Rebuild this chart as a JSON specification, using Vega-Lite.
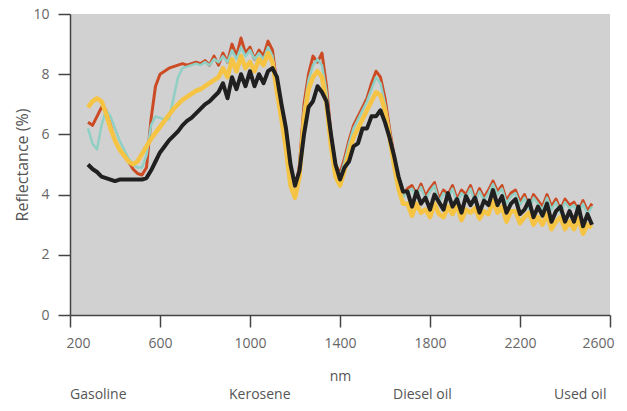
{
  "$schema": "https://vega.github.io/schema/vega-lite/v6.json",
  "autosize": "none",
  "width": 540,
  "height": 301,
  "padding": {"left": 70, "top": 14, "right": 17, "bottom": 96},
  "background": "white",
  "config": {
    "view": {"fill": "#d1d1d1", "stroke": null},
    "font": "Open Sans",
    "axis": {"grid": false, "domainColor": "#444", "domainWidth": 1.5, "tickColor": "#444", "tickWidth": 1.5, "tickSize": 12, "labelColor": "#666", "labelFontSize": 14, "titleColor": "#555", "titleFontWeight": "normal"}
  },
  "datasets": {
    "gas": [
      {"nm":280,"r":6.4},{"nm":300,"r":6.3},{"nm":320,"r":6.6},{"nm":340,"r":6.9},{"nm":360,"r":6.8},{"nm":380,"r":6.3},{"nm":400,"r":5.8},{"nm":420,"r":5.5},{"nm":440,"r":5.3},{"nm":460,"r":5.1},{"nm":480,"r":4.85},{"nm":500,"r":4.7},{"nm":520,"r":4.65},{"nm":540,"r":4.9},{"nm":560,"r":6.5},{"nm":580,"r":7.6},{"nm":600,"r":8.0},{"nm":620,"r":8.1},{"nm":640,"r":8.2},{"nm":660,"r":8.25},{"nm":680,"r":8.3},{"nm":700,"r":8.35},{"nm":720,"r":8.3},{"nm":740,"r":8.35},{"nm":760,"r":8.4},{"nm":780,"r":8.35},{"nm":800,"r":8.45},{"nm":820,"r":8.3},{"nm":840,"r":8.6},{"nm":860,"r":8.3},{"nm":880,"r":8.7},{"nm":900,"r":8.4},{"nm":920,"r":9.0},{"nm":940,"r":8.6},{"nm":960,"r":9.2},{"nm":980,"r":8.7},{"nm":1000,"r":8.9},{"nm":1020,"r":8.5},{"nm":1040,"r":8.8},{"nm":1060,"r":8.6},{"nm":1080,"r":9.1},{"nm":1100,"r":8.8},{"nm":1120,"r":7.6},{"nm":1140,"r":6.8},{"nm":1160,"r":5.8},{"nm":1180,"r":4.6},{"nm":1200,"r":4.0},{"nm":1220,"r":5.0},{"nm":1240,"r":7.0},{"nm":1260,"r":8.0},{"nm":1280,"r":8.6},{"nm":1300,"r":8.4},{"nm":1320,"r":8.7},{"nm":1340,"r":7.6},{"nm":1360,"r":6.0},{"nm":1380,"r":5.0},{"nm":1400,"r":4.7},{"nm":1420,"r":5.2},{"nm":1440,"r":5.8},{"nm":1460,"r":6.3},{"nm":1480,"r":6.6},{"nm":1500,"r":6.9},{"nm":1520,"r":7.2},{"nm":1540,"r":7.7},{"nm":1560,"r":8.1},{"nm":1580,"r":7.9},{"nm":1600,"r":7.2},{"nm":1620,"r":6.2},{"nm":1640,"r":5.3},{"nm":1660,"r":4.5},{"nm":1680,"r":4.0},
      {"nm":1700,"r":4.2},{"nm":1720,"r":4.3},{"nm":1740,"r":4.0},{"nm":1760,"r":4.35},{"nm":1780,"r":3.95},{"nm":1800,"r":4.2},{"nm":1820,"r":4.4},{"nm":1840,"r":3.85},{"nm":1860,"r":4.15},{"nm":1880,"r":4.0},{"nm":1900,"r":4.3},{"nm":1920,"r":3.85},{"nm":1940,"r":4.15},{"nm":1960,"r":4.0},{"nm":1980,"r":4.3},{"nm":2000,"r":3.85},{"nm":2020,"r":4.2},{"nm":2040,"r":3.9},{"nm":2060,"r":4.15},{"nm":2080,"r":4.45},{"nm":2100,"r":4.1},{"nm":2120,"r":4.3},{"nm":2140,"r":3.8},{"nm":2160,"r":4.05},{"nm":2180,"r":4.15},{"nm":2200,"r":3.75},{"nm":2220,"r":4.0},{"nm":2240,"r":3.6},{"nm":2260,"r":4.0},{"nm":2280,"r":3.8},{"nm":2300,"r":3.6},{"nm":2320,"r":4.0},{"nm":2340,"r":3.6},{"nm":2360,"r":3.85},{"nm":2380,"r":3.5},{"nm":2400,"r":3.85},{"nm":2420,"r":3.65},{"nm":2440,"r":3.75},{"nm":2460,"r":3.45},{"nm":2480,"r":3.8},{"nm":2500,"r":3.45},{"nm":2520,"r":3.7}
    ],
    "ker": [
      {"nm":280,"r":6.2},{"nm":300,"r":5.7},{"nm":320,"r":5.5},{"nm":340,"r":6.3},{"nm":360,"r":6.8},{"nm":380,"r":6.6},{"nm":400,"r":6.2},{"nm":420,"r":5.8},{"nm":440,"r":5.5},{"nm":460,"r":5.2},{"nm":480,"r":5.0},{"nm":500,"r":4.9},{"nm":520,"r":4.9},{"nm":540,"r":5.3},{"nm":560,"r":6.3},{"nm":580,"r":6.6},{"nm":600,"r":6.55},{"nm":620,"r":6.5},{"nm":640,"r":6.5},{"nm":660,"r":7.2},{"nm":680,"r":7.9},{"nm":700,"r":8.2},{"nm":720,"r":8.25},{"nm":740,"r":8.3},{"nm":760,"r":8.35},{"nm":780,"r":8.3},{"nm":800,"r":8.4},{"nm":820,"r":8.3},{"nm":840,"r":8.5},{"nm":860,"r":8.4},{"nm":880,"r":8.6},{"nm":900,"r":8.4},{"nm":920,"r":8.8},{"nm":940,"r":8.5},{"nm":960,"r":8.9},{"nm":980,"r":8.6},{"nm":1000,"r":8.8},{"nm":1020,"r":8.5},{"nm":1040,"r":8.7},{"nm":1060,"r":8.5},{"nm":1080,"r":8.9},{"nm":1100,"r":8.6},{"nm":1120,"r":7.5},{"nm":1140,"r":6.7},{"nm":1160,"r":5.7},{"nm":1180,"r":4.5},{"nm":1200,"r":4.0},{"nm":1220,"r":4.9},{"nm":1240,"r":6.8},{"nm":1260,"r":7.8},{"nm":1280,"r":8.3},{"nm":1300,"r":8.5},{"nm":1320,"r":8.3},{"nm":1340,"r":7.4},{"nm":1360,"r":5.9},{"nm":1380,"r":4.9},{"nm":1400,"r":4.6},{"nm":1420,"r":5.1},{"nm":1440,"r":5.7},{"nm":1460,"r":6.2},{"nm":1480,"r":6.5},{"nm":1500,"r":6.8},{"nm":1520,"r":7.1},{"nm":1540,"r":7.5},{"nm":1560,"r":7.9},{"nm":1580,"r":7.7},{"nm":1600,"r":7.0},{"nm":1620,"r":6.1},{"nm":1640,"r":5.2},{"nm":1660,"r":4.4},{"nm":1680,"r":3.9},
      {"nm":1700,"r":4.1},{"nm":1720,"r":4.2},{"nm":1740,"r":3.9},{"nm":1760,"r":4.25},{"nm":1780,"r":3.85},{"nm":1800,"r":4.1},{"nm":1820,"r":4.3},{"nm":1840,"r":3.75},{"nm":1860,"r":4.05},{"nm":1880,"r":3.9},{"nm":1900,"r":4.2},{"nm":1920,"r":3.75},{"nm":1940,"r":4.05},{"nm":1960,"r":3.9},{"nm":1980,"r":4.2},{"nm":2000,"r":3.75},{"nm":2020,"r":4.1},{"nm":2040,"r":3.8},{"nm":2060,"r":4.05},{"nm":2080,"r":4.35},{"nm":2100,"r":4.0},{"nm":2120,"r":4.2},{"nm":2140,"r":3.7},{"nm":2160,"r":3.95},{"nm":2180,"r":4.05},{"nm":2200,"r":3.65},{"nm":2220,"r":3.9},{"nm":2240,"r":3.5},{"nm":2260,"r":3.9},{"nm":2280,"r":3.7},{"nm":2300,"r":3.5},{"nm":2320,"r":3.9},{"nm":2340,"r":3.5},{"nm":2360,"r":3.75},{"nm":2380,"r":3.4},{"nm":2400,"r":3.75},{"nm":2420,"r":3.55},{"nm":2440,"r":3.65},{"nm":2460,"r":3.35},{"nm":2480,"r":3.7},{"nm":2500,"r":3.35},{"nm":2520,"r":3.6}
    ],
    "die": [
      {"nm":280,"r":6.9},{"nm":300,"r":7.1},{"nm":320,"r":7.2},{"nm":340,"r":7.1},{"nm":360,"r":6.7},{"nm":380,"r":6.2},{"nm":400,"r":5.8},{"nm":420,"r":5.5},{"nm":440,"r":5.3},{"nm":460,"r":5.1},{"nm":480,"r":5.0},{"nm":500,"r":5.1},{"nm":520,"r":5.35},{"nm":540,"r":5.6},{"nm":560,"r":5.85},{"nm":580,"r":6.05},{"nm":600,"r":6.25},{"nm":620,"r":6.45},{"nm":640,"r":6.65},{"nm":660,"r":6.85},{"nm":680,"r":7.0},{"nm":700,"r":7.15},{"nm":720,"r":7.25},{"nm":740,"r":7.35},{"nm":760,"r":7.45},{"nm":780,"r":7.5},{"nm":800,"r":7.6},{"nm":820,"r":7.7},{"nm":840,"r":7.8},{"nm":860,"r":7.9},{"nm":880,"r":8.2},{"nm":900,"r":7.9},{"nm":920,"r":8.5},{"nm":940,"r":8.1},{"nm":960,"r":8.6},{"nm":980,"r":8.2},{"nm":1000,"r":8.4},{"nm":1020,"r":8.1},{"nm":1040,"r":8.5},{"nm":1060,"r":8.3},{"nm":1080,"r":8.7},{"nm":1100,"r":8.4},{"nm":1120,"r":7.4},{"nm":1140,"r":6.5},{"nm":1160,"r":5.5},{"nm":1180,"r":4.3},{"nm":1200,"r":3.9},{"nm":1220,"r":4.6},{"nm":1240,"r":6.5},{"nm":1260,"r":7.5},{"nm":1280,"r":7.9},{"nm":1300,"r":8.1},{"nm":1320,"r":7.9},{"nm":1340,"r":7.0},{"nm":1360,"r":5.6},{"nm":1380,"r":4.6},{"nm":1400,"r":4.3},{"nm":1420,"r":4.8},{"nm":1440,"r":5.4},{"nm":1460,"r":5.9},{"nm":1480,"r":6.2},{"nm":1500,"r":6.5},{"nm":1520,"r":6.8},{"nm":1540,"r":7.1},{"nm":1560,"r":7.4},{"nm":1580,"r":7.3},{"nm":1600,"r":6.8},{"nm":1620,"r":5.9},{"nm":1640,"r":5.0},{"nm":1660,"r":4.2},{"nm":1680,"r":3.7},
      {"nm":1700,"r":3.7},{"nm":1720,"r":3.3},{"nm":1740,"r":3.7},{"nm":1760,"r":3.4},{"nm":1780,"r":3.5},{"nm":1800,"r":3.25},{"nm":1820,"r":3.7},{"nm":1840,"r":3.35},{"nm":1860,"r":3.25},{"nm":1880,"r":3.6},{"nm":1900,"r":3.35},{"nm":1920,"r":3.65},{"nm":1940,"r":3.15},{"nm":1960,"r":3.5},{"nm":1980,"r":3.4},{"nm":2000,"r":3.55},{"nm":2020,"r":3.2},{"nm":2040,"r":3.45},{"nm":2060,"r":3.35},{"nm":2080,"r":3.8},{"nm":2100,"r":3.4},{"nm":2120,"r":3.6},{"nm":2140,"r":3.1},{"nm":2160,"r":3.45},{"nm":2180,"r":3.45},{"nm":2200,"r":3.05},{"nm":2220,"r":3.25},{"nm":2240,"r":3.4},{"nm":2260,"r":3.0},{"nm":2280,"r":3.25},{"nm":2300,"r":3.0},{"nm":2320,"r":3.35},{"nm":2340,"r":2.85},{"nm":2360,"r":3.1},{"nm":2380,"r":3.25},{"nm":2400,"r":2.85},{"nm":2420,"r":3.1},{"nm":2440,"r":2.85},{"nm":2460,"r":3.2},{"nm":2480,"r":2.7},{"nm":2500,"r":3.0},{"nm":2520,"r":2.9}
    ],
    "used": [
      {"nm":280,"r":5.0},{"nm":300,"r":4.85},{"nm":320,"r":4.75},{"nm":340,"r":4.6},{"nm":360,"r":4.55},{"nm":380,"r":4.5},{"nm":400,"r":4.45},{"nm":420,"r":4.5},{"nm":440,"r":4.5},{"nm":460,"r":4.5},{"nm":480,"r":4.5},{"nm":500,"r":4.5},{"nm":520,"r":4.5},{"nm":540,"r":4.55},{"nm":560,"r":4.8},{"nm":580,"r":5.1},{"nm":600,"r":5.4},{"nm":620,"r":5.6},{"nm":640,"r":5.8},{"nm":660,"r":5.95},{"nm":680,"r":6.1},{"nm":700,"r":6.3},{"nm":720,"r":6.45},{"nm":740,"r":6.55},{"nm":760,"r":6.7},{"nm":780,"r":6.85},{"nm":800,"r":7.0},{"nm":820,"r":7.1},{"nm":840,"r":7.25},{"nm":860,"r":7.4},{"nm":880,"r":7.7},{"nm":900,"r":7.2},{"nm":920,"r":7.9},{"nm":940,"r":7.5},{"nm":960,"r":8.0},{"nm":980,"r":7.6},{"nm":1000,"r":8.1},{"nm":1020,"r":7.6},{"nm":1040,"r":8.0},{"nm":1060,"r":7.7},{"nm":1080,"r":8.1},{"nm":1100,"r":8.2},{"nm":1120,"r":7.9},{"nm":1140,"r":7.0},{"nm":1160,"r":6.2},{"nm":1180,"r":5.0},{"nm":1200,"r":4.3},{"nm":1220,"r":4.8},{"nm":1240,"r":6.0},{"nm":1260,"r":6.9},{"nm":1280,"r":7.1},{"nm":1300,"r":7.6},{"nm":1320,"r":7.4},{"nm":1340,"r":7.1},{"nm":1360,"r":6.0},{"nm":1380,"r":5.0},{"nm":1400,"r":4.5},{"nm":1420,"r":4.9},{"nm":1440,"r":5.1},{"nm":1460,"r":5.6},{"nm":1480,"r":5.7},{"nm":1500,"r":6.2},{"nm":1520,"r":6.2},{"nm":1540,"r":6.6},{"nm":1560,"r":6.6},{"nm":1580,"r":6.8},{"nm":1600,"r":6.4},{"nm":1620,"r":5.9},{"nm":1640,"r":5.3},{"nm":1660,"r":4.6},{"nm":1680,"r":4.1},
      {"nm":1700,"r":4.1},{"nm":1720,"r":3.6},{"nm":1740,"r":4.1},{"nm":1760,"r":3.7},{"nm":1780,"r":3.9},{"nm":1800,"r":3.5},{"nm":1820,"r":4.0},{"nm":1840,"r":3.75},{"nm":1860,"r":3.5},{"nm":1880,"r":4.05},{"nm":1900,"r":3.6},{"nm":1920,"r":3.85},{"nm":1940,"r":3.4},{"nm":1960,"r":3.95},{"nm":1980,"r":3.65},{"nm":2000,"r":3.9},{"nm":2020,"r":3.4},{"nm":2040,"r":3.8},{"nm":2060,"r":3.65},{"nm":2080,"r":4.15},{"nm":2100,"r":3.65},{"nm":2120,"r":3.95},{"nm":2140,"r":3.4},{"nm":2160,"r":3.7},{"nm":2180,"r":3.85},{"nm":2200,"r":3.35},{"nm":2220,"r":3.5},{"nm":2240,"r":3.8},{"nm":2260,"r":3.25},{"nm":2280,"r":3.6},{"nm":2300,"r":3.3},{"nm":2320,"r":3.7},{"nm":2340,"r":3.1},{"nm":2360,"r":3.45},{"nm":2380,"r":3.6},{"nm":2400,"r":3.1},{"nm":2420,"r":3.45},{"nm":2440,"r":3.1},{"nm":2460,"r":3.6},{"nm":2480,"r":2.95},{"nm":2500,"r":3.35},{"nm":2520,"r":3.0}
    ]
  },
  "encoding": {
    "x": {"field": "nm", "type": "quantitative", "scale": {"domain": [200, 2600]},
          "axis": {"values": [200, 600, 1000, 1400, 1800, 2200, 2600], "format": "d", "title": "nm", "labelPadding": 9, "labelFlushOffset": 4, "titlePadding": 19, "titleFontSize": 14}},
    "y": {"field": "r", "type": "quantitative", "scale": {"domain": [0, 10]},
          "axis": {"values": [0, 2, 4, 6, 8, 10], "title": "Reflectance (%)", "labelPadding": 9, "titlePadding": 2, "titleFontSize": 16}}
  },
  "layer": [
    {"data": {"name": "gas"}, "mark": {"type": "line", "strokeWidth": 3, "strokeJoin": "round"},
     "encoding": {"color": {"datum": "Gasoline", "type": "nominal",
       "scale": {"domain": ["Gasoline", "Kerosene", "Diesel oil", "Used oil"], "range": ["#cc4a24", "#8fcfc4", "#f6c444", "#202020"]},
       "legend": {"orient": "none", "legendX": -14, "legendY": 374, "direction": "horizontal", "title": null, "symbolOpacity": 0, "symbolSize": 0, "symbolStrokeWidth": 0, "labelOffset": 0, "columnPadding": 88, "gridAlign": "none", "labelFontSize": 14, "labelColor": "#555", "padding": 0}}}},
    {"data": {"name": "ker"}, "mark": {"type": "line", "strokeWidth": 2.5, "strokeJoin": "round"},
     "encoding": {"color": {"datum": "Kerosene", "type": "nominal"}}},
    {"data": {"name": "die"}, "mark": {"type": "line", "strokeWidth": 4.5, "strokeJoin": "round"},
     "encoding": {"color": {"datum": "Diesel oil", "type": "nominal"}}},
    {"data": {"name": "used"}, "mark": {"type": "line", "strokeWidth": 4, "strokeJoin": "round"},
     "encoding": {"color": {"datum": "Used oil", "type": "nominal"}}}
  ]
}
